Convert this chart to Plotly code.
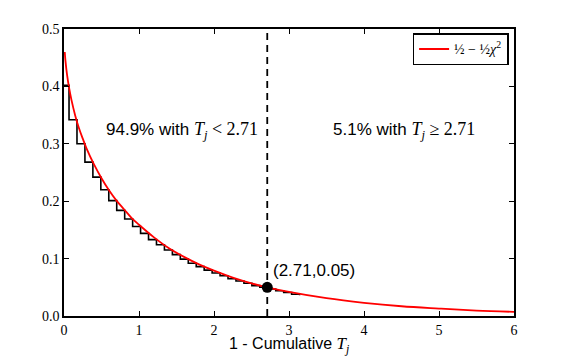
import plotly.graph_objects as go

# red curve: 1/2 - 1/2 chi^2
curve_x = [0.01, 0.02, 0.04, 0.07, 0.1, 0.15, 0.2, 0.25, 0.3, 0.4, 0.5, 0.6, 0.7, 0.8,
           0.9, 1.0, 1.2, 1.4, 1.6, 1.8, 2.0, 2.25, 2.5, 2.71, 3.0, 3.5, 4.0, 4.5,
           5.0, 5.5, 6.0]
curve_y = [0.460, 0.444, 0.421, 0.396, 0.376, 0.349, 0.327, 0.309, 0.292, 0.264,
           0.240, 0.219, 0.201, 0.186, 0.171, 0.159, 0.137, 0.118, 0.103, 0.090,
           0.079, 0.067, 0.057, 0.050, 0.042, 0.031, 0.023, 0.017, 0.013, 0.0095,
           0.0072]

# black staircase (empirical 1 - cumulative)
step_x = [0.0, 0.067, 0.173, 0.279, 0.385, 0.491, 0.597, 0.703, 0.809, 0.915, 1.021,
          1.127, 1.233, 1.339, 1.445, 1.551, 1.657, 1.763, 1.869, 1.975, 2.081,
          2.187, 2.293, 2.399, 2.505, 2.611, 2.717, 2.823, 2.929, 3.035, 3.141]
step_y = [0.402, 0.342, 0.300, 0.268, 0.242, 0.220, 0.201, 0.184, 0.169, 0.156,
          0.144, 0.133, 0.124, 0.115, 0.107, 0.099, 0.092, 0.086, 0.080, 0.075,
          0.070, 0.065, 0.061, 0.057, 0.053, 0.050, 0.047, 0.044, 0.041, 0.038,
          0.036]

cut_x = 2.71
cut_y = 0.05
x_ticks = [0, 1, 2, 3, 4, 5, 6]
y_ticks = [0.0, 0.1, 0.2, 0.3, 0.4, 0.5]

SERIF = "Liberation Serif, DejaVu Serif, serif"
SANS = "Liberation Sans, Arial, sans-serif"

fig = go.Figure()

fig.add_trace(go.Scatter(
    x=step_x, y=step_y, mode="lines", line=dict(color="black", width=1.6, shape="hv"),
    showlegend=False, hoverinfo="skip",
))

fig.add_trace(go.Scatter(
    x=curve_x, y=curve_y, mode="lines", line=dict(color="red", width=1.8, shape="spline"),
    name="<span style='font-size:14px'>½ − ½<i>χ</i><sup>2</sup></span>",
))

fig.add_shape(type="line", x0=cut_x, x1=cut_x, y0=0, y1=0.5, xref="x", yref="y",
              line=dict(color="black", width=1.8, dash="7px,5px"))

fig.add_trace(go.Scatter(
    x=[cut_x], y=[cut_y], mode="markers", marker=dict(color="black", size=11),
    showlegend=False, hoverinfo="skip",
))


def math(s, size=18):
    return f"<span style='font-family:{SERIF};font-size:{size}px'>{s}</span>"


fig.add_annotation(x=1.57, y=0.324, xref="x", yref="y", showarrow=False,
                   text="94.9% with " + math("<i>T<sub>j</sub></i> &lt; 2.71"),
                   font=dict(family=SANS, size=17, color="black"))
fig.add_annotation(x=4.53, y=0.324, xref="x", yref="y", showarrow=False,
                   text="5.1% with " + math("<i>T<sub>j</sub></i> ≥ 2.71"),
                   font=dict(family=SANS, size=17, color="black"))
fig.add_annotation(x=2.76, y=0.079, xref="x", yref="y", showarrow=False, xanchor="left",
                   text=f"({cut_x},{cut_y})",
                   font=dict(family=SANS, size=17, color="black"))

# x axis title, placed by hand
fig.add_annotation(x=0.5, y=-0.102, xref="paper", yref="paper", showarrow=False,
                   yanchor="middle",
                   text="1 - Cumulative " + math("<i>T<sub>j</sub></i>", 17),
                   font=dict(family=SANS, size=16, color="black"))

axis_common = dict(
    showgrid=False, zeroline=False, showline=True, linecolor="black", linewidth=1.5,
    mirror="allticks", ticks="inside", ticklen=5, tickcolor="black", tickwidth=1,
    tickfont=dict(family=SERIF, size=14, color="black"),
)

# the page body adds an 8px offset, so margins are shifted to compensate
fig.update_layout(
    width=581, height=359,
    paper_bgcolor="white", plot_bgcolor="white",
    margin=dict(l=56, r=75, t=21, b=51, autoexpand=False),
    xaxis=dict(range=[0, 6], tickvals=x_ticks, ticktext=[str(v) for v in x_ticks],
               **axis_common),
    yaxis=dict(range=[0, 0.5], tickvals=y_ticks, ticktext=[f"{v:.1f}" for v in y_ticks],
               **axis_common),
    legend=dict(x=0.988, y=0.986, xanchor="right", yanchor="top",
                bordercolor="black", borderwidth=1.5, bgcolor="white",
                font=dict(family=SERIF, size=12, color="black"),
                itemwidth=30, tracegroupgap=0),
)

fig.write_html("out.html")
